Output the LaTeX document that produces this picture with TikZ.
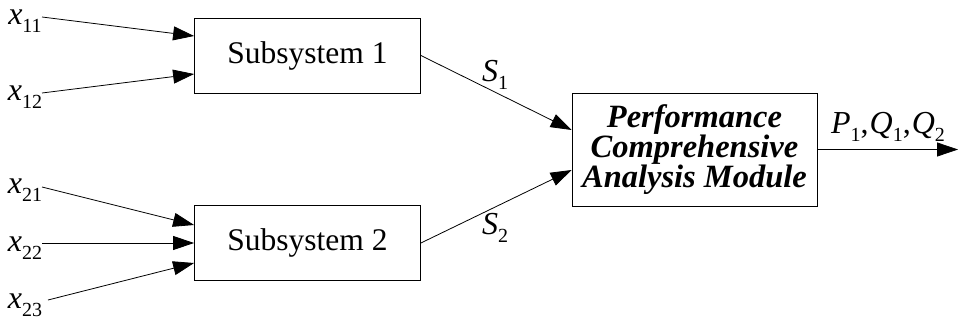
\documentclass[tikz,border=0pt]{standalone}
\usepackage{fontspec}
\setmainfont{Liberation Serif}
\usetikzlibrary{arrows.meta}

% italic variable with an upright subscript
\newcommand{\var}[2]{\textit{#1}\raisebox{-0.55ex}{\fontsize{20}{20}\selectfont #2}}

\tikzset{
  block/.style={draw, thick, minimum width=226pt, minimum height=75pt,
    font=\fontsize{31.5}{34}\selectfont},
  module/.style={draw, thick, minimum width=245pt, minimum height=113pt, align=center,
    font=\fontsize{32.5}{30}\selectfont\bfseries\itshape},
  lbl/.style={font=\fontsize{32}{34}\selectfont, inner sep=0pt},
  flow/.style={-{Triangle[length=21pt,width=14pt]}, thick}
}

\begin{document}
\begin{tikzpicture}[x=1pt, y=-1pt]
        \useasboundingbox (0,0) rectangle (958,321);

        % Blocks
        \node[block] (sub1) at (307.5,55.5) {Subsystem 1};
        \node[block] (sub2) at (307.5,243) {Subsystem 2};
        \node[module] (pcam) at (694.5,149.5) {Performance\\Comprehensive\\Analysis Module};

        % Inputs of subsystem 1
        \node[lbl] (x11) at (25,21) {\var{x}{11}};
        \node[lbl] (x12) at (25,97) {\var{x}{12}};
        \coordinate (a11) at (42,17);
        \coordinate (a12) at (42,93);
        \draw[flow] (a11) -- ([yshift=19.5pt]sub1.west);
        \draw[flow] (a12) -- ([yshift=-18.5pt]sub1.west);

        % Inputs of subsystem 2
        \node[lbl] (x21) at (25,190) {\var{x}{21}};
        \node[lbl] (x22) at (25,248) {\var{x}{22}};
        \node[lbl] (x23) at (25,305) {\var{x}{23}};
        \coordinate (a21) at (42,187);
        \coordinate (a22) at (42,243);
        \coordinate (a23) at (48,300);
        \draw[flow] (a21) -- ([yshift=18pt]sub2.west);
        \draw[flow] (a22) -- (sub2.west);
        \draw[flow] (a23) -- ([yshift=-20pt]sub2.west);

        % Subsystem outputs
        \draw[flow] (sub1.east) -- ([yshift=19.5pt]pcam.west);
        \draw[flow] (sub2.east) -- ([yshift=-20.5pt]pcam.west);
        \node[lbl] (s1) at (495,75) {\var{S}{1}};
        \node[lbl] (s2) at (495,228) {\var{S}{2}};

        % Result
        \coordinate (out) at (958,149.5);
        \draw[flow] (pcam.east) -- (out);
        \node[lbl] (res) at (888,127) {\var{P}{1},\kern1pt\var{Q}{1},\kern1pt\var{Q}{2}};
\end{tikzpicture}
\end{document}
